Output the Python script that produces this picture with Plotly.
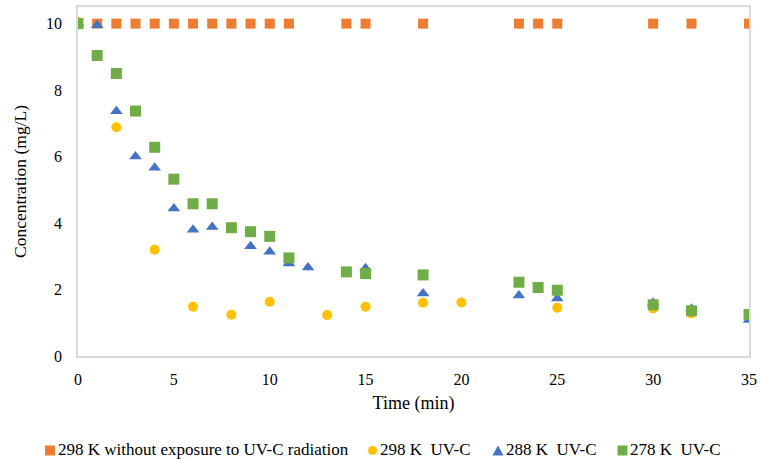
import plotly.graph_objects as go

# Data
t_ctrl = [0, 1, 2, 3, 4, 5, 6, 7, 8, 9, 10, 11, 14, 15, 18, 23, 24, 25, 30, 32, 35]
c_ctrl = [10.0] * len(t_ctrl)

t_298 = [0, 2, 4, 6, 8, 10, 13, 15, 18, 20, 25, 30, 32, 35]
c_298 = [10.05, 6.88, 3.2, 1.48, 1.24, 1.63, 1.23, 1.48, 1.6, 1.61, 1.45, 1.43, 1.28, 1.2]

t_288 = [0, 1, 2, 3, 4, 5, 6, 7, 9, 10, 11, 12, 15, 18, 23, 25, 30, 32, 35]
c_288 = [10.0, 9.95, 7.36, 6.0, 5.66, 4.44, 3.8, 3.88, 3.3, 3.14, 2.78, 2.66, 2.64, 1.88, 1.82, 1.73, 1.6, 1.42, 1.08]

t_278 = [0, 1, 2, 3, 4, 5, 6, 7, 8, 9, 10, 11, 14, 15, 18, 23, 24, 25, 30, 32, 35]
c_278 = [10.0, 9.04, 8.5, 7.37, 6.28, 5.32, 4.58, 4.58, 3.86, 3.74, 3.6, 2.95, 2.53, 2.48, 2.44, 2.22, 2.06, 1.98, 1.54, 1.36, 1.25]

names = ["298 K without exposure to UV-C radiation",
         "298 K\u00a0\u00a0UV-C",
         "288 K\u00a0\u00a0UV-C",
         "278 K\u00a0\u00a0UV-C"]
colors = ["#ED7D31", "#FFC000", "#4472C4", "#70AD47"]
symbols = ["square", "circle", "triangle-up", "square"]

x_ticks = [0, 5, 10, 15, 20, 25, 30, 35]
y_ticks = [0, 2, 4, 6, 8, 10]

# ---- layout geometry (pixels) ----
W, H = 760, 459
ML, MR, MT, MB = 78, 11, 7, 103
PW, PH = W - ML - MR, H - MT - MB

def fx(px):
    return (px - ML) / PW

def fy(py):
    return (H - MB - py) / PH

fig = go.Figure()
series = [(t_ctrl, c_ctrl, 10), (t_298, c_298, 10), (t_288, c_288, 11), (t_278, c_278, 11)]
for (tx, cy, sz), nm, col, sym in zip(series, names, colors, symbols):
    fig.add_trace(go.Scatter(x=tx, y=cy, mode="markers", name=nm, showlegend=False,
                             marker=dict(symbol=sym, size=sz, color=col)))

# ---- custom legend (compact, like the original) ----
leg_y = 450.5
leg_marker_x = [50, 372.5, 498, 622.5]
leg_text_x = [57, 379, 505, 629]
shapes = []
annotations = []
for i, (nm, col, sym) in enumerate(zip(names, colors, symbols)):
    cx = leg_marker_x[i]
    if sym == "square":
        shapes.append(dict(type="rect", xref="paper", yref="paper",
                           x0=fx(cx - 5), x1=fx(cx + 5), y0=fy(leg_y + 5), y1=fy(leg_y - 5),
                           fillcolor=col, line=dict(width=0)))
    elif sym == "circle":
        shapes.append(dict(type="circle", xref="paper", yref="paper",
                           x0=fx(cx - 4.5), x1=fx(cx + 4.5), y0=fy(leg_y + 4.5), y1=fy(leg_y - 4.5),
                           fillcolor=col, line=dict(width=0)))
    else:
        path = "M {a},{b} L {c},{b} L {d},{e} Z".format(
            a=fx(cx - 5.5), c=fx(cx + 5.5), b=fy(leg_y + 5), d=fx(cx), e=fy(leg_y - 5))
        shapes.append(dict(type="path", xref="paper", yref="paper", path=path,
                           fillcolor=col, line=dict(width=0)))
    annotations.append(dict(text=nm, xref="paper", yref="paper", x=fx(leg_text_x[i]), y=fy(leg_y - 1),
                            xanchor="left", yanchor="middle", showarrow=False, borderpad=0,
                            font=dict(size=17, color="black")))

font_family = "Liberation Serif, Times New Roman, serif"
fig.update_layout(
    width=W, height=H,
    paper_bgcolor="white", plot_bgcolor="white",
    margin=dict(l=ML, r=MR, t=MT, b=MB),
    font=dict(family=font_family, size=16, color="black"),
    xaxis=dict(range=[0, 35], tickvals=x_ticks, showgrid=False, zeroline=False,
               showline=True, linecolor="#D9D9D9", linewidth=1.5, mirror=True,
               ticks="", automargin=False, ticklabelstandoff=8,
               title=dict(text="Time (min)", font=dict(size=18), standoff=9),
               tickfont=dict(size=16)),
    yaxis=dict(range=[0, 10.5], tickvals=y_ticks, showgrid=False, zeroline=False,
               showline=True, linecolor="#D9D9D9", linewidth=1.5, mirror=True,
               ticks="", automargin=False, ticklabelstandoff=11,
               title=dict(text="Concentration (mg/L)", font=dict(size=17.5), standoff=15),
               tickfont=dict(size=16)),
    shapes=shapes,
    annotations=annotations,
    showlegend=False,
)

fig.write_html("out.html", config={"displayModeBar": False},
               post_script="document.body.style.margin='0';")
